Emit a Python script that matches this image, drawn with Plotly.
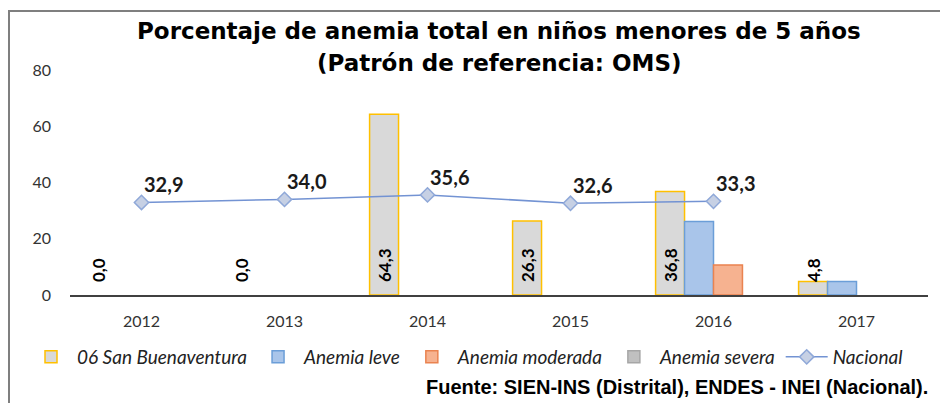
import plotly.graph_objects as go

years = [2012, 2013, 2014, 2015, 2016, 2017]
san_buenaventura = [0.0, 0.0, 64.3, 26.3, 36.8, 4.8]
anemia_leve = [0.0, 0.0, 0.0, 0.0, 26.1, 4.8]
anemia_moderada = [0.0, 0.0, 0.0, 0.0, 10.7, 0.0]
anemia_severa = [0.0, 0.0, 0.0, 0.0, 0.0, 0.0]
nacional = [32.9, 34.0, 35.6, 32.6, 33.3, None]
y_ticks = [0, 20, 40, 60, 80]

BODY = "Lato"
ARIAL = "Liberation Sans"
HEAVY = "DejaVu Sans"


def fmt(v):
    return f"{v:.1f}".replace(".", ",")


def nz(vals):
    return [v if v else None for v in vals]


fig = go.Figure()
fig.add_trace(go.Bar(
    x=years, y=nz(san_buenaventura), name="06 San Buenaventura",
    marker=dict(color="#d9d9d9", line=dict(color="#ffc000", width=1.5)),
))
fig.add_trace(go.Bar(
    x=years, y=nz(anemia_leve), name="Anemia leve",
    marker=dict(color="#a9c5ea", line=dict(color="#6b9ed8", width=1.5)),
))
fig.add_trace(go.Bar(
    x=years, y=nz(anemia_moderada), name="Anemia moderada",
    marker=dict(color="#f6b290", line=dict(color="#ea8350", width=1.5)),
))
fig.add_trace(go.Bar(
    x=years, y=nz(anemia_severa), name="Anemia severa",
    marker=dict(color="#c0c0c0", line=dict(color="#a6a6a6", width=1.5)),
))
fig.add_trace(go.Scatter(
    x=years, y=nacional, name="Nacional", mode="lines+markers",
    line=dict(color="#7393d3", width=1.5),
    marker=dict(symbol="diamond", size=11, color="#c6d0e4",
                line=dict(color="#8fa8d8", width=1.5)),
))

bargap = 0.19
nb = 4
bw = (1 - bargap) / nb
sb_offset = -1.5 * bw

annotations = []
for yr, v in zip(years, san_buenaventura):
    annotations.append(dict(
        x=yr + sb_offset, y=0, xref="x", yref="y",
        text=f"<b>{fmt(v)}</b>", showarrow=False, textangle=-90,
        xanchor="center", yanchor="bottom", yshift=11,
        font=dict(family=BODY, size=17, color="#000000"),
    ))
for yr, v in zip(years, nacional):
    if v is None:
        continue
    annotations.append(dict(
        x=yr, y=v, xref="x", yref="y",
        text=f"<b>{fmt(v)}</b>", showarrow=False,
        xanchor="left", yanchor="bottom", xshift=0, yshift=4,
        font=dict(family=BODY, size=20, color="#1a1a1a"),
    ))

annotations += [
    dict(text="<b>Porcentaje de anemia total en niños menores de 5 años</b>",
         xref="paper", yref="paper", x=0.5, y=(295 - 31) / 225,
         xanchor="center", yanchor="middle", showarrow=False,
         font=dict(family=HEAVY, size=23, color="#000000")),
    dict(text="<b>(Patrón de referencia: OMS)</b>",
         xref="paper", yref="paper", x=0.5, y=(295 - 63) / 225,
         xanchor="center", yanchor="middle", showarrow=False,
         font=dict(family=HEAVY, size=23, color="#000000")),
    dict(text="<b>Fuente: SIEN-INS (Distrital), ENDES - INEI (Nacional).</b>",
         xref="paper", yref="paper", x=(930 - 70) / 858, y=(295 - 387) / 225,
         xanchor="right", yanchor="middle", showarrow=False,
         font=dict(family=ARIAL, size=20, color="#000000")),
]

fig.update_layout(
    width=940, height=403,
    margin=dict(l=70, r=12, t=70, b=108),
    paper_bgcolor="#ffffff", plot_bgcolor="#ffffff",
    barmode="group", bargap=bargap, bargroupgap=0,
    showlegend=True,
    legend=dict(orientation="h", x=(25 - 70) / 858, xanchor="left",
                y=(295 - 357) / 225, yanchor="middle", itemwidth=42,
                font=dict(family=BODY, size=19, color="#222222", style="italic"),
                traceorder="normal", bgcolor="rgba(0,0,0,0)"),
    font=dict(family=BODY, size=16, color="#333333"),
    annotations=annotations,
    shapes=[dict(type="rect", xref="paper", yref="paper",
                 x0=(9 - 70) / 858, x1=1.2, y0=-1.0, y1=(295 - 11) / 225,
                 line=dict(color="#7f7f7f", width=2), layer="below")],
)
fig.update_xaxes(
    range=[2011.5, 2017.5], tickmode="array", tickvals=years,
    ticktext=[str(y) for y in years], showgrid=False, zeroline=False,
    showline=True, linecolor="#404040", linewidth=1.5, ticks="",
    ticklabelstandoff=11, tickfont=dict(family=BODY, size=16, color="#333333"),
)
fig.update_yaxes(
    range=[0, 80], tickmode="array", tickvals=y_ticks,
    showgrid=False, zeroline=False, showline=False, ticks="",
    ticklabelstandoff=18, tickfont=dict(family=BODY, size=16, color="#333333"),
)

fig.write_html("out.html")
